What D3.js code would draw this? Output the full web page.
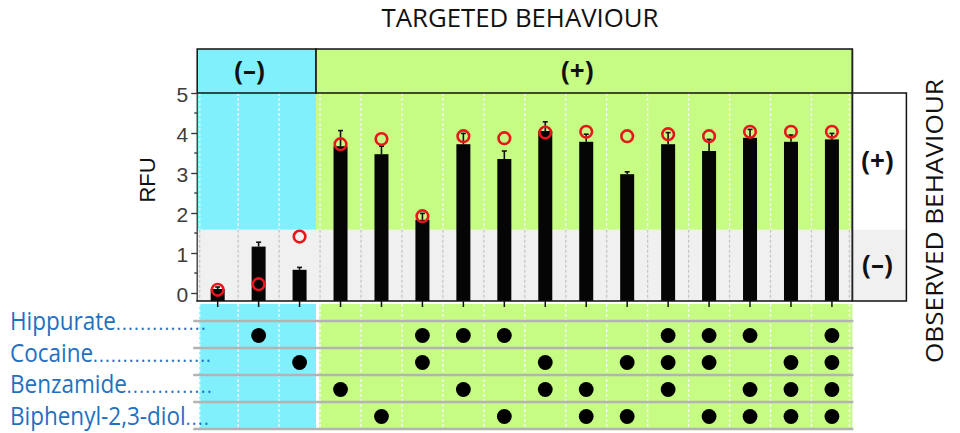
<!DOCTYPE html>
<html>
<head>
<meta charset="utf-8">
<script src="https://cdn.jsdelivr.net/npm/d3@7"></script>
<style>
  html, body { margin: 0; padding: 0; background: #ffffff; }
  svg { display: block; }
</style>
</head>
<body>
<svg id="chart" width="960" height="433"></svg>
<script>
// ---- data ----
const columns = d3.range(1, 17);                       // 16 tested conditions
const targeted = ["−", "−", "−", "+", "+", "+", "+", "+", "+", "+", "+", "+", "+", "+", "+", "+"];
const rfu       = [0.10, 1.16, 0.58, 3.67, 3.47, 1.83, 3.72, 3.35, 4.05, 3.78, 2.97, 3.72, 3.55, 3.88, 3.78, 3.84];
const rfuError  = [0.05, 0.11, 0.06, 0.39, 0.20, 0.16, 0.27, 0.20, 0.23, 0.19, 0.06, 0.29, 0.29, 0.21, 0.17, 0.15];
const predicted = [0.08, 0.22, 1.41, 3.72, 3.85, 1.92, 3.92, 3.87, 4.01, 4.03, 3.92, 3.97, 3.92, 4.03, 4.03, 4.03];
const yTicks = [0, 1, 2, 3, 4, 5];
const observedThreshold = 1.58;                          // boundary between (–) and (+) observed behaviour
const chemicals = ["Hippurate", "Cocaine", "Benzamide", "Biphenyl-2,3-diol"];
const hippurate = [2, 6, 7, 8, 12, 13, 14, 16];
const cocaine   = [3, 6, 9, 11, 12, 13, 15, 16];
const benzamide = [4, 7, 9, 10, 12, 14, 15, 16];
const biphenyl  = [5, 8, 10, 11, 13, 14, 15, 16];
const presence = [hippurate, cocaine, benzamide, biphenyl];

// ---- styling ----
const BLUE = "#7ff0fc", GREEN = "#c6fb84", GREY = "#f0f0f0";
const svg = d3.select("#chart");

const x = d3.scaleBand().domain(columns).range([197.2, 852.4]).paddingInner(0).paddingOuter(0);
const y = d3.scaleLinear().domain([0, 5]).range([293, 93]);
const plotLeft = x.range()[0], plotRight = x.range()[1];
const plotTop = y(5), plotBottom = y(-0.2);
const firstPlus = columns[targeted.indexOf("+")];
const splitX = x(firstPlus) - 4;
const headerTop = 49;

// layer order: matrix underneath, then plot
const matrix = svg.append("g");
const g = svg.append("g");

// ---- plot backgrounds ----
g.append("rect").attr("x", plotLeft).attr("y", plotTop).attr("width", splitX - plotLeft)
  .attr("height", y(observedThreshold) - plotTop).attr("fill", BLUE);
g.append("rect").attr("x", splitX).attr("y", plotTop).attr("width", plotRight - splitX)
  .attr("height", y(observedThreshold) - plotTop).attr("fill", GREEN);
g.append("rect").attr("x", plotLeft).attr("y", y(observedThreshold)).attr("width", plotRight - plotLeft)
  .attr("height", plotBottom - y(observedThreshold)).attr("fill", GREY);

// dashed column separators
const boundaries = d3.range(0, columns.length + 1).map(i => {
  const v = plotLeft + i * x.bandwidth();
  return i === 0 ? v + 2.5 : (i === columns.length ? v - 3 : v);
});
g.selectAll("line.sepTop").data(boundaries).join("line")
  .attr("x1", d => d).attr("x2", d => d)
  .attr("y1", plotTop).attr("y2", y(observedThreshold))
  .attr("stroke", "#f4f4f4").attr("stroke-width", 1.4).attr("stroke-dasharray", "3,2");
g.selectAll("line.sepBot").data(boundaries).join("line")
  .attr("x1", d => d).attr("x2", d => d)
  .attr("y1", y(observedThreshold)).attr("y2", plotBottom)
  .attr("stroke", "#c4c4c4").attr("stroke-width", 1.2).attr("stroke-dasharray", "3,2");

// ---- header (targeted behaviour) ----
svg.append("rect").attr("x", plotLeft).attr("y", headerTop).attr("width", splitX - plotLeft)
  .attr("height", plotTop - headerTop).attr("fill", BLUE).attr("stroke", "#111").attr("stroke-width", 1.5);
svg.append("rect").attr("x", splitX).attr("y", headerTop).attr("width", plotRight - splitX)
  .attr("height", plotTop - headerTop).attr("fill", GREEN).attr("stroke", "#111").attr("stroke-width", 1.5);
svg.append("text").attr("x", (plotLeft + splitX) / 2 - 7).attr("y", (headerTop + plotTop) / 2 + 9)
  .attr("text-anchor", "middle").attr("font-family", "Open Sans").attr("font-weight", "bold")
  .attr("font-size", 26).attr("fill", "#111").text("(–)");
svg.append("text").attr("x", (splitX + plotRight) / 2 - 7).attr("y", (headerTop + plotTop) / 2 + 9)
  .attr("text-anchor", "middle").attr("font-family", "Open Sans").attr("font-weight", "bold")
  .attr("font-size", 26).attr("fill", "#111").text("(+)");

// ---- observed behaviour panel ----
const panelRight = plotRight + 54;
svg.append("rect").attr("x", plotRight).attr("y", plotTop).attr("width", panelRight - plotRight)
  .attr("height", y(observedThreshold) - plotTop).attr("fill", "#ffffff");
svg.append("rect").attr("x", plotRight).attr("y", y(observedThreshold)).attr("width", panelRight - plotRight)
  .attr("height", plotBottom - y(observedThreshold)).attr("fill", GREY);
svg.append("rect").attr("x", plotRight).attr("y", plotTop).attr("width", panelRight - plotRight)
  .attr("height", plotBottom - plotTop).attr("fill", "none").attr("stroke", "#111").attr("stroke-width", 1.5);
svg.append("text").attr("x", (plotRight + panelRight) / 2 - 2).attr("y", (plotTop + y(observedThreshold)) / 2 + 9)
  .attr("text-anchor", "middle").attr("font-family", "Open Sans").attr("font-weight", "bold")
  .attr("font-size", 26).attr("fill", "#111").text("(+)");
svg.append("text").attr("x", (plotRight + panelRight) / 2 - 2).attr("y", (y(observedThreshold) + plotBottom) / 2 + 9)
  .attr("text-anchor", "middle").attr("font-family", "Open Sans").attr("font-weight", "bold")
  .attr("font-size", 26).attr("fill", "#111").text("(–)");

// plot right border
svg.append("line").attr("x1", plotRight).attr("x2", plotRight).attr("y1", headerTop).attr("y2", plotBottom)
  .attr("stroke", "#222").attr("stroke-width", 1.5);

// ---- bars with error bars ----
const barW = 14;
const bars = svg.append("g");
bars.selectAll("rect.bar").data(columns).join("rect")
  .attr("x", d => x(d) + x.bandwidth() / 2 - barW / 2)
  .attr("y", (d, i) => y(rfu[i]))
  .attr("width", barW)
  .attr("height", (d, i) => plotBottom - y(rfu[i]))
  .attr("fill", "#050505");
bars.selectAll("line.err").data(columns).join("line")
  .attr("x1", d => x(d) + x.bandwidth() / 2).attr("x2", d => x(d) + x.bandwidth() / 2)
  .attr("y1", (d, i) => y(rfu[i])).attr("y2", (d, i) => y(rfu[i] + rfuError[i]))
  .attr("stroke", "#111").attr("stroke-width", 1.6);
bars.selectAll("line.cap").data(columns).join("line")
  .attr("x1", d => x(d) + x.bandwidth() / 2 - 2.5).attr("x2", d => x(d) + x.bandwidth() / 2 + 2.5)
  .attr("y1", (d, i) => y(rfu[i] + rfuError[i])).attr("y2", (d, i) => y(rfu[i] + rfuError[i]))
  .attr("stroke", "#111").attr("stroke-width", 1.6);

// predicted values (red circles)
bars.selectAll("circle.pred").data(columns).join("circle")
  .attr("cx", d => x(d) + x.bandwidth() / 2)
  .attr("cy", (d, i) => y(predicted[i]))
  .attr("r", 5.8).attr("fill", "none").attr("stroke", "#e8151b").attr("stroke-width", 2.6);

// ---- axes ----
const yAxis = d3.axisLeft(y).tickValues(yTicks).tickFormat(d3.format("d")).tickSize(6).tickPadding(3);
const yAxisG = svg.append("g").attr("transform", `translate(${plotLeft},0)`).call(yAxis);
yAxisG.select(".domain").attr("d", `M0,${plotTop}V${plotBottom}`).attr("stroke", "#333").attr("stroke-width", 1.3);
yAxisG.selectAll(".tick line").attr("stroke", "#333").attr("stroke-width", 1.3);
yAxisG.selectAll(".tick text").attr("font-family", "Liberation Sans, Arial, sans-serif")
  .attr("font-size", 21).attr("fill", "#3d3d3d").attr("dy", "0.4em");
const minorTicks = yTicks.slice(0, -1).map(t => t + 0.5);
svg.append("g").selectAll("line").data(minorTicks).join("line")
  .attr("x1", plotLeft - 3).attr("x2", plotLeft).attr("y1", d => y(d)).attr("y2", d => y(d))
  .attr("stroke", "#333").attr("stroke-width", 1.3);

// ---- composition matrix ----
const stripTop = plotBottom + 3;
const rows = d3.scaleBand().domain(chemicals).range([321, 429]);
matrix.append("rect").attr("x", plotLeft + 2).attr("y", stripTop).attr("width", splitX - plotLeft - 2)
  .attr("height", rows.range()[1] - stripTop).attr("fill", BLUE);
matrix.append("rect").attr("x", splitX + 3).attr("y", stripTop).attr("width", plotRight - splitX - 3)
  .attr("height", rows.range()[1] - stripTop).attr("fill", GREEN);
matrix.selectAll("line.msep").data(boundaries).join("line")
  .attr("x1", d => d).attr("x2", d => d).attr("y1", stripTop).attr("y2", rows.range()[1])
  .attr("stroke", "#f6f6f6").attr("stroke-width", 1.4).attr("stroke-dasharray", "3,2");
const rowLines = chemicals.map(c => rows(c)).concat([rows.range()[1]]);
matrix.selectAll("line.rowline").data(rowLines).join("line")
  .attr("x1", plotLeft - 4).attr("x2", plotRight + 1).attr("y1", d => d).attr("y2", d => d)
  .attr("stroke", "#b3b3b3").attr("stroke-width", 2.5);

const dotData = [];
presence.forEach((cols, r) => cols.forEach(c => dotData.push({ chem: chemicals[r], col: c })));
matrix.append("g").selectAll("circle").data(dotData).join("circle")
  .attr("cx", d => x(d.col) + x.bandwidth() / 2)
  .attr("cy", d => rows(d.chem) + rows.bandwidth() / 2 + 1)
  .attr("r", 7.4).attr("fill", "#000");

// x axis drawn over the matrix strip so the ticks hang into it
const xAxis = d3.axisBottom(x).tickFormat("").tickSize(6);
const xAxisG = svg.append("g").attr("transform", `translate(0,${plotBottom})`).call(xAxis);
xAxisG.select(".domain").attr("d", `M${plotLeft - 1},0H${plotRight}`).attr("stroke", "#111").attr("stroke-width", 1.6);
xAxisG.selectAll(".tick line").attr("stroke", "#111").attr("stroke-width", 1.5);

// chemical names (slightly condensed) followed by dot leaders, one text element each
const leaderEnds = [207, 212, 213, 210];
const squeeze = 0.9;
const labelY = d3.scalePoint().domain(chemicals).range([330, 425]);
chemicals.forEach((c, i) => {
  const t = svg.append("text")
    .attr("transform", `translate(10,${labelY(c)}) scale(${squeeze},1)`)
    .attr("font-family", "Open Sans").attr("fill", "#1f70c1");
  const nameSpan = t.append("tspan").attr("font-size", 25).text(c);
  const w = nameSpan.node().getComputedTextLength() * squeeze;
  const avail = leaderEnds[i] - 10 - w;
  const n = Math.max(3, Math.round(avail / 6));
  const dots = t.append("tspan").attr("font-size", 20).text(".".repeat(n));
  const perDot = dots.node().getComputedTextLength() / n;
  const targetPerDot = Math.max(avail, 12) / squeeze / n;
  dots.attr("letter-spacing", (targetPerDot - perDot).toFixed(2));
});

// ---- titles ----
svg.append("text").attr("x", 520).attr("y", 27).attr("text-anchor", "middle")
  .attr("font-family", "Open Sans").attr("font-size", 25).attr("fill", "#111")
  .attr("textLength", 277).attr("lengthAdjust", "spacingAndGlyphs").text("TARGETED BEHAVIOUR");
svg.append("text").attr("transform", "translate(943,221) rotate(-90)").attr("text-anchor", "middle")
  .attr("font-family", "Open Sans").attr("font-size", 24).attr("fill", "#111")
  .attr("textLength", 284).attr("lengthAdjust", "spacingAndGlyphs").text("OBSERVED  BEHAVIOUR");
svg.append("text").attr("transform", "translate(155,180) rotate(-90)").attr("text-anchor", "middle")
  .attr("font-family", "Liberation Sans, Arial, sans-serif").attr("font-size", 22).attr("fill", "#111")
  .text("RFU");
</script>
</body>
</html>
